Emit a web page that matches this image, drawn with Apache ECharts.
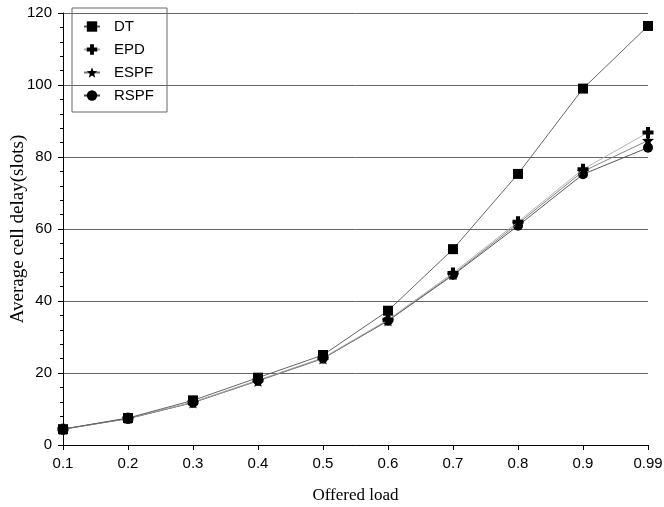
<!DOCTYPE html>
<html>
<head>
<meta charset="utf-8">
<script src="https://cdn.jsdelivr.net/npm/echarts@6/dist/echarts.min.js"></script>
<style>html,body{margin:0;padding:0;background:#fff}#c{width:664px;height:507px}</style>
</head>
<body>
<div id="c"></div>
<script>
const categories = ['0.1','0.2','0.3','0.4','0.5','0.6','0.7','0.8','0.9','0.99'];
const dt   = [4.4, 7.5, 12.4, 18.7, 25.0, 37.3, 54.4, 75.3, 99.0, 116.4];
const epd  = [4.4, 7.4, 11.9, 18.0, 24.2, 34.8, 47.8, 62.0, 76.6, 86.8];
const espf = [4.4, 7.4, 11.8, 17.8, 24.0, 34.6, 47.4, 61.5, 76.0, 84.6];
const rspf = [4.4, 7.3, 11.8, 17.9, 24.1, 34.5, 47.2, 60.9, 75.2, 82.6];
const yTicks = [0, 20, 40, 60, 80, 100, 120];

const starPath = 'path://M0,-100 L24.7,-34 L95.1,-30.9 L39.9,13 L58.8,80.9 L0,42 L-58.8,80.9 L-39.9,13 L-95.1,-30.9 L-24.7,-34 Z';
const plusPath = 'path://M-1.1,-3 L1.1,-3 L1.1,-1.1 L3,-1.1 L3,1.1 L1.1,1.1 L1.1,3 L-1.1,3 L-1.1,1.1 L-3,1.1 L-3,-1.1 L-1.1,-1.1 Z';

function mk(name, data, symbol, size, lineColor, z) {
  return {
    name: name, type: 'line', data: data, symbol: symbol, symbolSize: size,
    showAllSymbol: true, z: z,
    lineStyle: { color: lineColor, width: 0.9 },
    itemStyle: { color: '#000' },
    emphasis: { disabled: true },
    animation: false
  };
}

const chart = echarts.init(document.getElementById('c'));
chart.setOption({
  backgroundColor: '#fff',
  animation: false,
  grid: { left: 63, right: 16, top: 13, bottom: 62, containLabel: false, outerBoundsMode: 'none' },
  legend: {
    data: ['DT', 'EPD', 'ESPF', 'RSPF'],
    orient: 'vertical', left: 72, top: 8,
    padding: [11, 13, 9, 11],
    itemWidth: 16, itemHeight: 13, itemGap: 8,
    borderColor: '#666', borderWidth: 1,
    textStyle: { fontFamily: 'Liberation Sans', fontSize: 15, color: '#000', padding: [0, 0, 0, 9] }
  },
  xAxis: {
    type: 'category', data: categories, boundaryGap: false,
    name: 'Offered load', nameLocation: 'middle', nameGap: 42, nameMoveOverlap: false,
    nameTextStyle: { fontFamily: 'Liberation Serif', fontSize: 17, color: '#000' },
    axisLine: { lineStyle: { color: '#000', width: 1 } },
    axisTick: { show: true, length: 5, lineStyle: { color: '#000' } },
    axisLabel: { fontFamily: 'Liberation Sans', fontSize: 15, color: '#000', margin: 11 },
    splitLine: { show: false }
  },
  yAxis: {
    type: 'value', min: yTicks[0], max: yTicks[yTicks.length - 1], interval: 20,
    name: 'Average cell delay(slots)', nameLocation: 'middle', nameGap: 35, nameMoveOverlap: false,
    nameTextStyle: { fontFamily: 'Liberation Serif', fontSize: 19, color: '#000' },
    axisLine: { show: true, lineStyle: { color: '#000', width: 1 } },
    axisTick: { show: true, length: 5, lineStyle: { color: '#000' } },
    minorTick: { show: true, splitNumber: 5, length: 3, lineStyle: { color: '#000' } },
    axisLabel: { fontFamily: 'Liberation Sans', fontSize: 15, color: '#000', margin: 11 },
    splitLine: { show: true, lineStyle: { color: '#666', width: 1 } }
  },
  series: [
    mk('RSPF', rspf, 'circle', 10, '#444', 2),
    mk('ESPF', espf, starPath, 12, '#777', 3),
    mk('EPD', epd, plusPath, 11, '#aaa', 4),
    mk('DT', dt, 'rect', 10, '#555', 5)
  ]
});
</script>
</body>
</html>
